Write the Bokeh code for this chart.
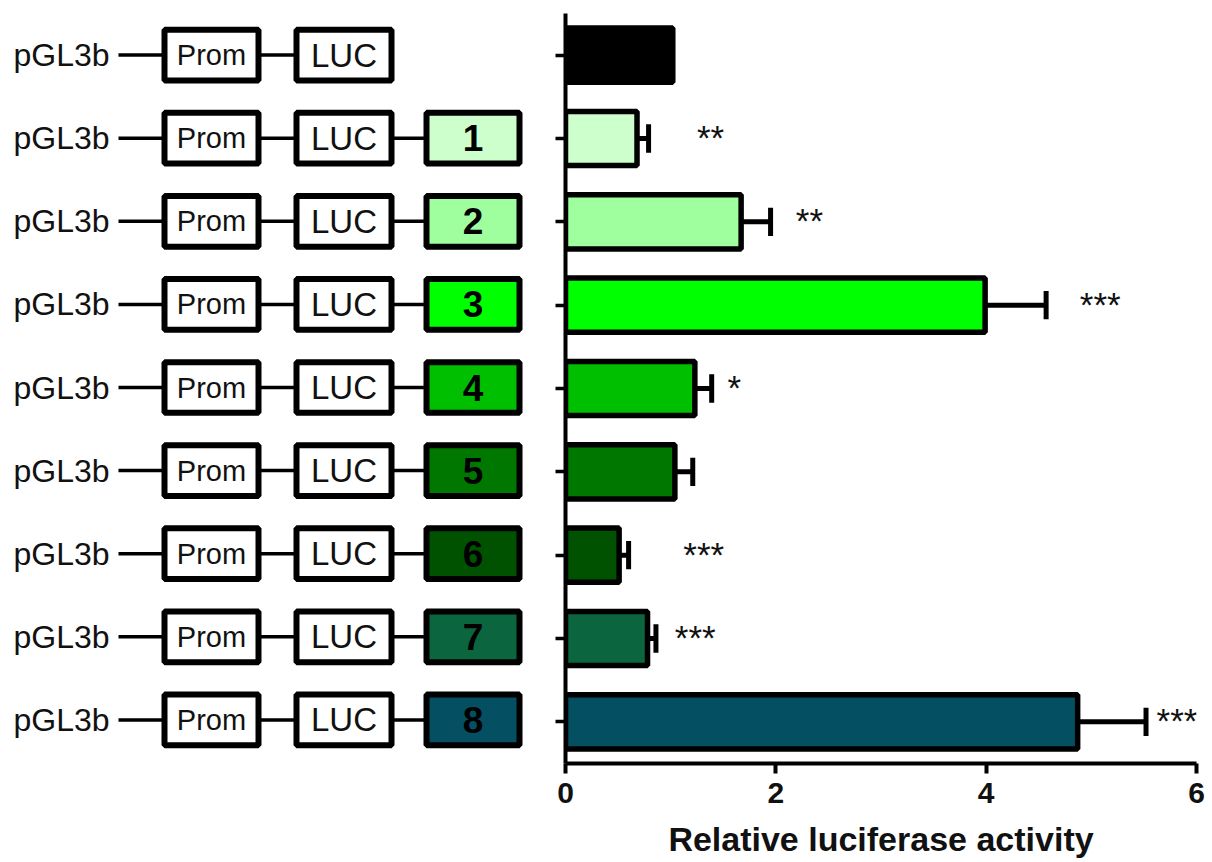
from bokeh.plotting import figure
from bokeh.layouts import row
from bokeh.models import Range1d, FixedTicker
from bokeh.core.properties import value
from bokeh.embed import file_html
from bokeh.resources import INLINE

# ---------------- data ----------------
constructs = ["pGL3b"] * 9
promoter = ["Prom"] * 9
reporter = ["LUC"] * 9
fragments = ["", "1", "2", "3", "4", "5", "6", "7", "8"]
activity = [1.02, 0.68, 1.67, 3.99, 1.23, 1.04, 0.51, 0.78, 4.87]
sem = [0.0, 0.11, 0.28, 0.58, 0.16, 0.17, 0.09, 0.08, 0.65]
significance = ["", "**", "**", "***", "*", "", "***", "***", "***"]
star_x = [0.0, 1.25, 2.19, 4.89, 1.54, 0.0, 1.12, 1.04, 5.62]
colors = ["#000000", "#CCFFCC", "#9FFF9F", "#00FF00", "#00BF00",
          "#007800", "#005200", "#0B6640", "#054F62"]
x_ticks = [0, 2, 4, 6]
x_label = "Relative luciferase activity"

rows = list(range(len(constructs)))
FONT = "Liberation Sans"

yr = Range1d(start=8.5, end=-0.5)

# ---------------- left: construct schematics ----------------
left = figure(width=535, height=858, x_range=Range1d(-8, 527), y_range=yr,
              output_backend="svg", toolbar_location=None,
              x_axis_location=None, y_axis_location=None,
              min_border_left=0, min_border_right=0,
              min_border_top=13, min_border_bottom=95)
left.grid.visible = False
left.outline_line_color = None
left.background_fill_color = "white"

frag_rows = [r for r in rows if fragments[r]]
frag_labels = [fragments[r] for r in frag_rows]
frag_colors = [colors[r] for r in frag_rows]

left.segment(x0=[110] * len(rows), y0=rows, x1=[160] * len(rows), y1=rows,
             line_color="black", line_width=3.5)
left.segment(x0=[250] * len(rows), y0=rows, x1=[290] * len(rows), y1=rows,
             line_color="black", line_width=3.5)
left.segment(x0=[383] * len(frag_rows), y0=frag_rows, x1=[420] * len(frag_rows), y1=frag_rows,
             line_color="black", line_width=3.5)

left.rect(x=[203] * len(rows), y=rows, width=94, height=0.61,
          fill_color="white", line_color="black", line_width=6)
left.rect(x=[335.5] * len(rows), y=rows, width=95, height=0.61,
          fill_color="white", line_color="black", line_width=6)
left.rect(x=[464.5] * len(frag_rows), y=frag_rows, width=93, height=0.61,
          fill_color=frag_colors, line_color="black", line_width=6)

left.text(x=[5] * len(rows), y=rows, text=constructs,
          text_font=value(FONT), text_font_size="32px", text_color="#111111",
          text_align="left", text_baseline="middle")
left.text(x=[203] * len(rows), y=rows, text=promoter,
          text_font=value(FONT), text_font_size="29px", text_color="#111111",
          text_align="center", text_baseline="middle")
left.text(x=[335.5] * len(rows), y=rows, text=reporter,
          text_font=value(FONT), text_font_size="33px", text_color="#111111",
          text_align="center", text_baseline="middle")
left.text(x=[464.5] * len(frag_rows), y=frag_rows, text=frag_labels,
          text_font=value(FONT), text_font_size="37px", text_font_style="bold",
          text_color="#000000", text_align="center", text_baseline="middle")

# ---------------- right: bar chart ----------------
right = figure(frame_width=631, frame_height=750, x_range=Range1d(0, 6), y_range=yr,
               output_backend="svg", toolbar_location=None,
               min_border_left=30, min_border_right=10,
               min_border_top=13, min_border_bottom=95)
right.grid.visible = False
right.outline_line_color = None

err_rows = [r for r in rows if sem[r] > 0]
err_lo = [activity[r] for r in err_rows]
err_hi = [activity[r] + sem[r] for r in err_rows]
right.segment(x0=err_lo, y0=err_rows, x1=err_hi, y1=err_rows,
              line_color="black", line_width=5)
right.segment(x0=err_hi, y0=[r - 0.17 for r in err_rows], x1=err_hi,
              y1=[r + 0.17 for r in err_rows], line_color="black", line_width=5)

right.hbar(y=rows, left=0, right=activity, height=0.65,
           fill_color=colors, line_color="black", line_width=5.5)

star_rows = [r for r in rows if significance[r]]
right.text(x=[star_x[r] for r in star_rows], y=star_rows,
           text=[significance[r] for r in star_rows],
           text_font=value(FONT), text_font_size="35px",
           text_color="#111111", text_align="left", text_baseline="middle", y_offset=-1)

xa = right.xaxis[0]
xa.ticker = FixedTicker(ticks=x_ticks)
xa.axis_line_width = 4
xa.axis_line_color = "black"
xa.major_tick_line_width = 4
xa.major_tick_out = 10
xa.major_tick_in = 0
xa.minor_tick_line_color = None
xa.major_label_text_font = FONT
xa.major_label_text_font_size = "30px"
xa.major_label_text_font_style = "bold"
xa.major_label_text_color = "#111111"
xa.major_label_standoff = 9
xa.axis_label = x_label
xa.axis_label_text_font = FONT
xa.axis_label_text_font_size = "34px"
xa.axis_label_text_font_style = "bold"
xa.axis_label_text_color = "#111111"
xa.axis_label_standoff = 14

ya = right.yaxis[0]
ya.ticker = FixedTicker(ticks=rows)
ya.axis_line_width = 4
ya.axis_line_color = "black"
ya.major_tick_line_width = 3.5
ya.major_tick_out = 10
ya.major_tick_in = 0
ya.minor_tick_line_color = None
ya.major_label_overrides = {r: "" for r in rows}
ya.major_label_standoff = 0

layout = row(left, right)

open("out.html", "w").write(file_html(layout, INLINE))
